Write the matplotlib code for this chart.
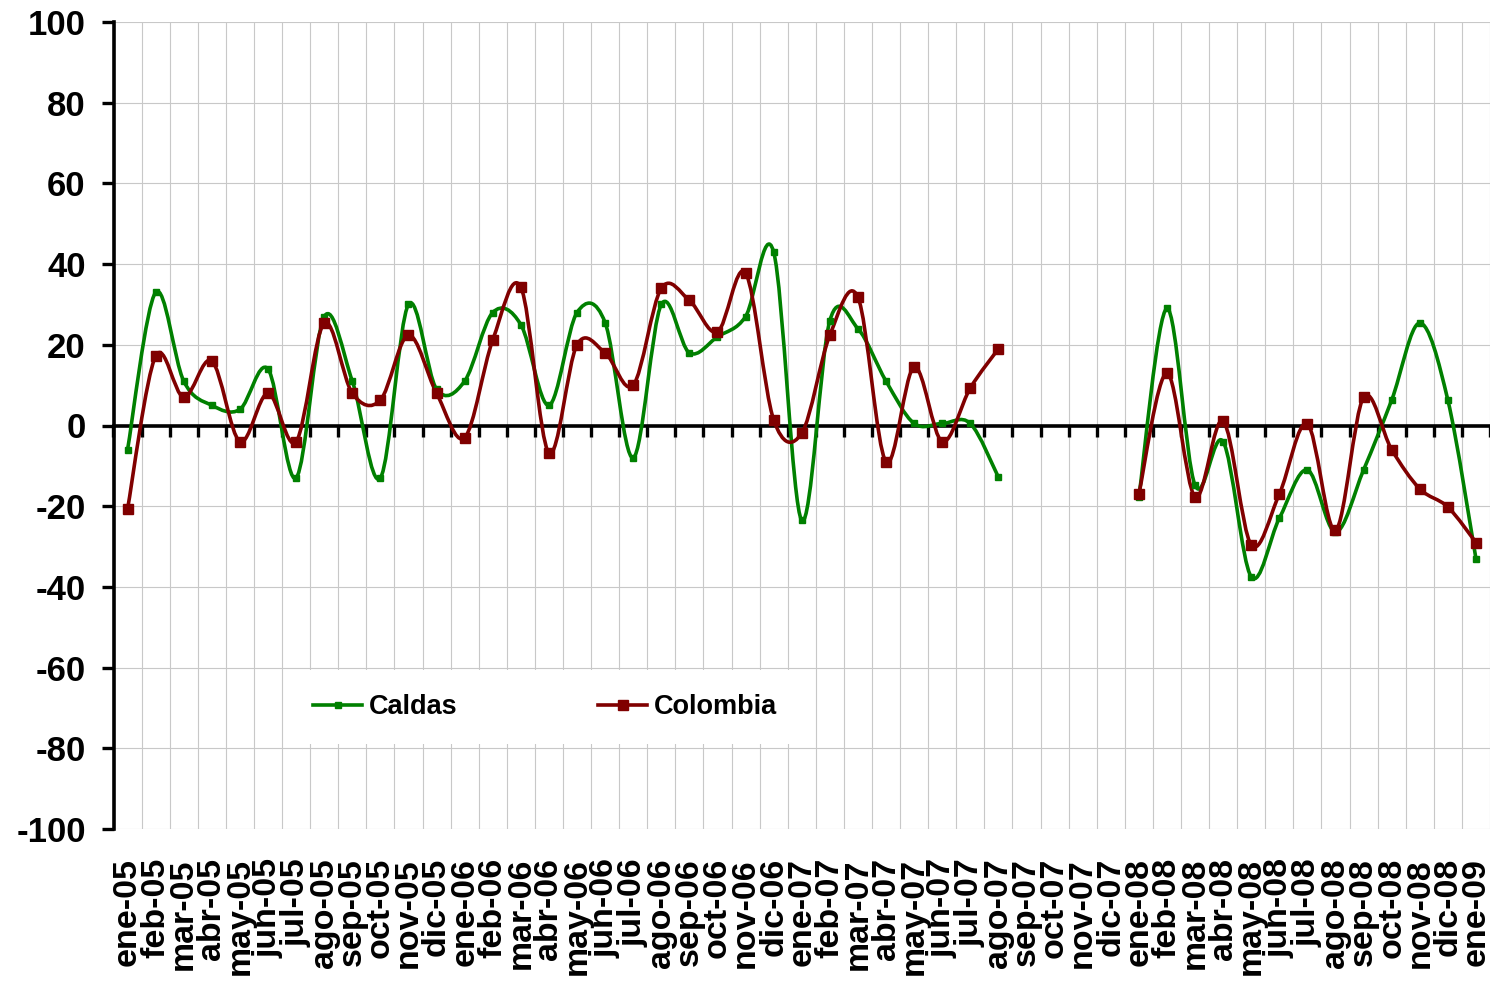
import matplotlib
matplotlib.use("Agg")
import matplotlib.pyplot as plt
from matplotlib.path import Path
from matplotlib.patches import PathPatch
from matplotlib.lines import Line2D
import numpy as np

plt.rcParams["font.family"] = ["Liberation Sans", "DejaVu Sans"]
plt.rcParams["font.weight"] = "bold"
plt.rcParams["axes.unicode_minus"] = False

meses = ["ene-05", "feb-05", "mar-05", "abr-05", "may-05", "jun-05", "jul-05",
         "ago-05", "sep-05", "oct-05", "nov-05", "dic-05",
         "ene-06", "feb-06", "mar-06", "abr-06", "may-06", "jun-06", "jul-06",
         "ago-06", "sep-06", "oct-06", "nov-06", "dic-06",
         "ene-07", "feb-07", "mar-07", "abr-07", "may-07", "jun-07", "jul-07",
         "ago-07", "sep-07", "oct-07", "nov-07", "dic-07",
         "ene-08", "feb-08", "mar-08", "abr-08", "may-08", "jun-08", "jul-08",
         "ago-08", "sep-08", "oct-08", "nov-08", "dic-08",
         "ene-09"]

caldas = [-6, 33, 11, 5, 4, 14, -13, 27, 11, -13, 30, 9,
          11, 28, 25, 5, 28, 25.5, -8, 30, 18, 22, 27, 43,
          -23.5, 26, 24, 11, 0.5, 0.5, 0.5, -12.8, None, None, None, None,
          -17.7, 29, -14.8, -4, -37.5, -23, -11, -26.4, -11, 6.3, 25.4, 6.3,
          -33]

colombia = [-20.7, 17.2, 7, 16, -4, 8, -4, 25.4, 8, 6.3, 22.4, 8,
            -3, 21.2, 34.3, -6.8, 20, 18, 10, 34, 31, 23.2, 37.8, 1.4,
            -1.9, 22.4, 31.8, -9, 14.5, -4, 9.3, 19, None, None, None, None,
            -17, 13, -17.7, 1.1, -29.6, -17, 0.4, -26, 7, -6, -15.7, -20.2,
            -29]

verde = "#008000"
granate = "#800000"


def tramos(valores):
    # split the series where the data is missing
    partes, actual = [], []
    for i, v in enumerate(valores):
        if v is None:
            if actual:
                partes.append(actual)
            actual = []
        else:
            actual.append((i, v))
    if actual:
        partes.append(actual)
    return partes


def curva_suave(puntos):
    # smoothed line like excel: cubic bezier through the points
    xs = [p[0] for p in puntos]
    ys = [p[1] for p in puntos]
    n = len(xs)
    verts = [(xs[0], ys[0])]
    codes = [Path.MOVETO]
    for i in range(n - 1):
        a = i - 1 if i > 0 else i
        d = i + 2 if i + 2 < n else i + 1
        c1 = (xs[i] + (xs[i + 1] - xs[a]) / 6, ys[i] + (ys[i + 1] - ys[a]) / 6)
        c2 = (xs[i + 1] - (xs[d] - xs[i]) / 6, ys[i + 1] - (ys[d] - ys[i]) / 6)
        verts += [c1, c2, (xs[i + 1], ys[i + 1])]
        codes += [Path.CURVE4] * 3
    return Path(verts, codes)


fig = plt.figure(figsize=(14.9, 9.81), dpi=100)
ax = fig.add_axes([113.5 / 1490, 1 - 829 / 981, (1490 - 113.5) / 1490, 807 / 981])

for serie, color, ms in [(caldas, verde, 4), (colombia, granate, 7)]:
    for parte in tramos(serie):
        patch = PathPatch(curva_suave(parte), facecolor="none", edgecolor=color,
                          linewidth=2.6, zorder=3, capstyle="round", joinstyle="round")
        ax.add_patch(patch)
        ax.plot([p[0] for p in parte], [p[1] for p in parte], linestyle="none",
                marker="s", markersize=ms, color=color, zorder=4)

x = np.arange(len(meses))
ax.set_xlim(-0.5, len(meses) - 0.5)
ax.set_ylim(-100, 100)
ax.set_yticks(np.arange(-100, 101, 20))
ax.set_xticks(x)
ax.set_xticklabels([])
ax.set_xticks(np.arange(-0.5, len(meses), 1), minor=True)

ax.spines["top"].set_visible(False)
ax.spines["right"].set_visible(False)
ax.spines["bottom"].set_position(("data", 0))
ax.spines["bottom"].set_linewidth(2.6)
ax.spines["left"].set_linewidth(2.6)

ax.tick_params(axis="x", which="major", length=0)
ax.tick_params(axis="x", which="minor", direction="out", length=8, width=2.4)
ax.tick_params(axis="y", direction="out", length=9, width=2.4, pad=11, labelsize=25)
for t in ax.get_yticklabels():
    t.set_fontweight("bold")

ax.grid(which="minor", axis="x", color="#c8c8c8", linewidth=0.8)
ax.grid(which="major", axis="y", color="#c8c8c8", linewidth=0.8)

for i, m in enumerate(meses):
    ax.text(i, -0.036, m, transform=ax.get_xaxis_transform(), rotation=90,
            ha="center", va="top", fontsize=24.5, fontweight="bold")

handles = [Line2D([], [], color=verde, linewidth=2.6, marker="s", markersize=4),
           Line2D([], [], color=granate, linewidth=2.6, marker="s", markersize=7.5)]
leg = ax.legend(handles, ["Caldas", "Colombia"], ncol=2, loc="center",
                bbox_to_anchor=(545 / 1490, 1 - 707 / 981), bbox_transform=fig.transFigure,
                frameon=True, fancybox=False, edgecolor="none", facecolor="white",
                framealpha=1, fontsize=19.5, handlelength=1.8, handletextpad=0.25,
                columnspacing=5.2, borderpad=0.9, borderaxespad=0)
for t in leg.get_texts():
    t.set_fontweight("bold")

fig.savefig("out.png", dpi=100)
